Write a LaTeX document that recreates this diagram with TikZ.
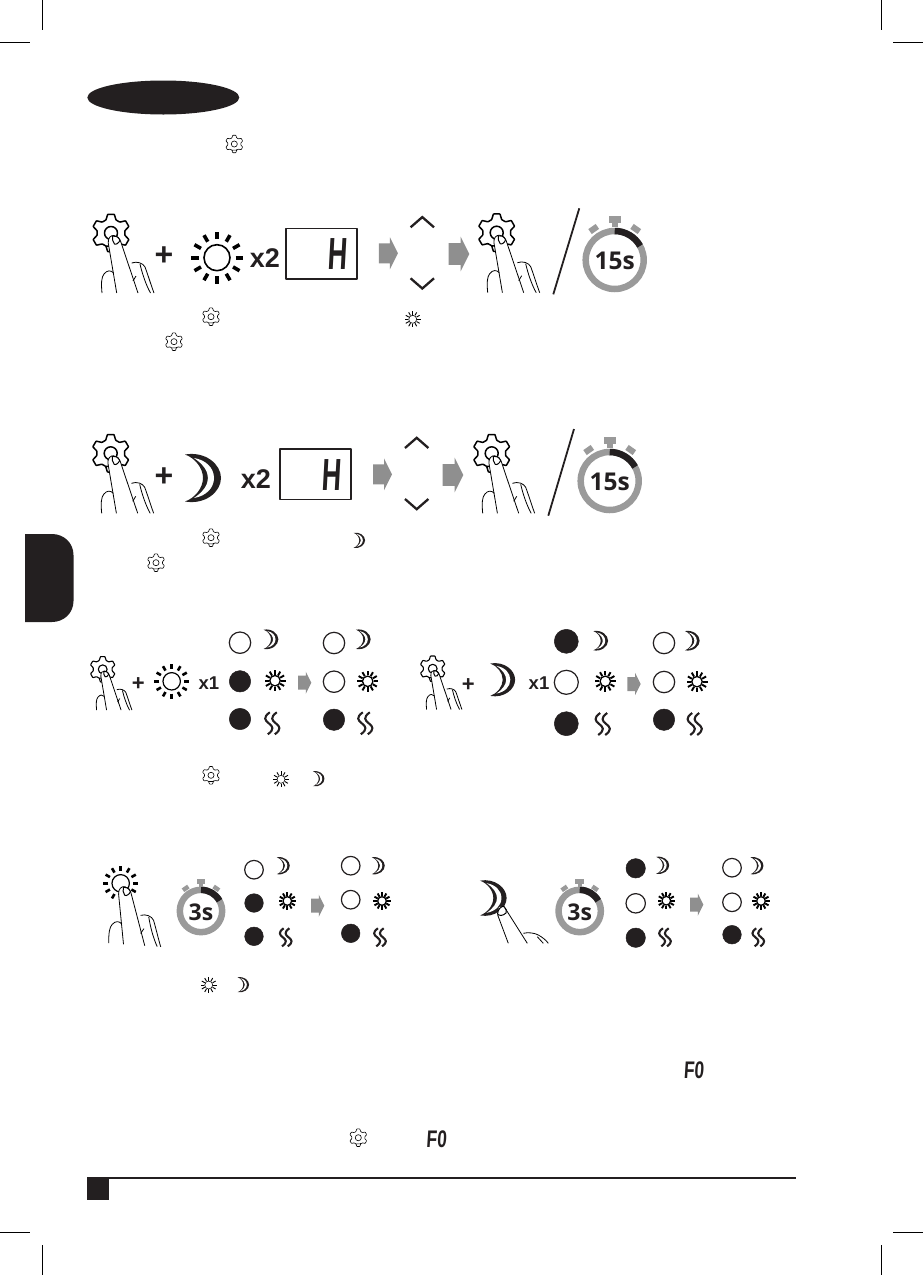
\documentclass[tikz,border=0pt]{standalone}
\usepackage{fontspec}
\setmainfont{Liberation Sans}
\newfontfamily\watchfont{Open Sans}
\newfontfamily\segfont[FakeSlant=.09]{Liberation Sans}
\usetikzlibrary{positioning}
\definecolor{inkdark}{HTML}{231F20}
\definecolor{arrowgray}{HTML}{8F8F8F}
\definecolor{ringgray}{HTML}{9A9A9A}
\begin{document}
\begin{tikzpicture}[
  x=1pt, y=-1pt, line join=round,
  plusmark/.style={font=\fontsize{32}{32}\selectfont\bfseries,text=inkdark,inner sep=0pt},
  plussmall/.style={font=\fontsize{22}{22}\selectfont\bfseries,text=inkdark,inner sep=0pt},
  timesmark/.style={font=\fontsize{27}{27}\selectfont\bfseries,text=inkdark,inner sep=0pt},
  timessmall/.style={font=\fontsize{18.5}{19}\selectfont\bfseries,text=inkdark,inner sep=0pt},
  watchbig/.style={font=\watchfont\fontsize{24.5}{25}\selectfont\bfseries,text=inkdark,inner sep=0pt},
  watchsmall/.style={font=\watchfont\fontsize{23}{23}\selectfont\bfseries,text=inkdark,inner sep=0pt},
  segbig/.style={font=\segfont\fontsize{45}{45}\selectfont\bfseries,text=inkdark,inner sep=0pt,xscale=.6,transform shape},
  segsmall/.style={font=\segfont\fontsize{24}{24}\selectfont\bfseries,text=inkdark,inner sep=0pt,xscale=.72,transform shape},
  dispbox/.style={draw=inkdark,line width=1.8pt,minimum width=71pt,minimum height=50.5pt,inner sep=0pt},
  ledon/.style={circle,fill=inkdark,draw=inkdark,line width=.5pt,inner sep=0pt},
  ledoff/.style={circle,fill=white,draw=inkdark,line width=1.2pt,inner sep=0pt},
  crop/.style={line width=.8pt,black},
  gearmark/.pic={
    \draw[rounded corners=.5pt] (69:14) \foreach \a in {90,150,...,450} {
      -- ({\a-21}:14) -- ({\a-10}:19) -- ({\a+10}:19) -- ({\a+21}:14) } -- cycle;
    \draw (0,0) circle (6.5);
  },
  handmark/.pic={
    \fill[white] (-2.7,10.3) .. controls (-3.5,5) and (0,2) .. (3,2.5)
      .. controls (6,3) and (9,5) .. (9.5,8) -- (27,60) -- (5.7,60) -- cycle;
    \draw[line width=.8pt] (5.7,60) -- (-2.7,10.3) .. controls (-3.5,5) and (0,2) .. (3,2.5)
      .. controls (6,3) and (9,5) .. (9.5,8) -- (27,60);
    \draw[line width=1pt,fill=white] (1.5,3) .. controls (4,2.5) and (7,3.5) .. (9,7)
      .. controls (8,10) and (5,12) .. (3.5,11) .. controls (2,9) and (1,6) .. cycle;
    \draw[line width=.8pt] (-9,60) .. controls (-10,50) and (-9.5,44) .. (-7,41)
      .. controls (-4,37) and (0,37) .. (2.6,40);
    \draw[line width=.8pt] (20.7,30) .. controls (26,28) and (32,30) .. (34,34)
      .. controls (37,42) and (40,52) .. (43,60);
    \draw[line width=.8pt] (29,31) .. controls (31,40) and (35,52) .. (39.5,60);
    \draw[line width=.8pt] (22,48) -- (25,43);
  },
  pics/sunflash/.style={code={
    \draw (0,0) circle (13);
    \foreach \a in {0,30,...,330} \draw[line width=#1] (\a:18.5) -- (\a:26);
  }},
  pics/sunmark/.style={code={
    \draw (0,0) circle (5);
    \foreach \a in {0,30,...,330} \draw[line width=#1] (\a:5.6) -- (\a:10);
  }},
  moonmark/.pic={
    \fill[inkdark] (-18,-23.5) .. controls (2,-27) and (18,-14) .. (18,0)
      .. controls (18,14) and (2,27) .. (-18,23.5)
      .. controls (-8,20) and (0,10) .. (0,0)
      .. controls (0,-10) and (-8,-20) .. (-18,-23.5) -- cycle;
    \fill[white] (-9,-20) .. controls (3,-18) and (11,-10) .. (11,0)
      .. controls (11,10) and (3,18) .. (-9,20)
      .. controls (0,14) and (5,7) .. (5,0)
      .. controls (5,-7) and (0,-14) .. (-9,-20) -- cycle;
  },
  steammark/.pic={
    \foreach \x in {-3.5,3.5} \draw[line width=2.1pt,inkdark] (\x+1,-11)
      .. controls (\x-6,-6) and (\x-4,-3) .. (\x,0)
      .. controls (\x+4,3) and (\x+6,6) .. (\x-1,11);
  },
  grayarrow/.pic={
    \fill[arrowgray] (-9.5,-10) -- (1.5,-10) -- (1.5,-16) -- (9.5,0) -- (1.5,16) -- (1.5,10) -- (-9.5,10) -- cycle;
  },
  updown/.pic={
    \draw[line width=2.3pt,inkdark,line join=miter] (-11.7,-25.5) -- (0,-35.7) -- (11.7,-25.5);
    \draw[line width=2.3pt,inkdark,line join=miter] (-11.7,25.5) -- (0,35.7) -- (11.7,25.5);
  },
  watchmark/.pic={
    \draw[line width=6.5pt,ringgray] (0,0) circle (29);
    \draw[line width=6.5pt,inkdark] (-90:29) arc (-90:-29:29);
    \fill[ringgray] (-6,-44.3) rectangle (6,-37.3);
    \fill[ringgray] (-3,-36.7) rectangle (3,-33);
    \fill[ringgray,shift={(-21,-31)},rotate=35] (-4.5,-3) rectangle (4.5,3);
    \fill[ringgray,shift={(21,-31)},rotate=-35] (-4.5,-3) rectangle (4.5,3);
  },
]
\useasboundingbox (0,0) rectangle (923,1275);
\foreach \x in {42.5,881.5} {
  \draw[crop] (\x,0) -- (\x,30);
  \draw[crop] (\x,1245) -- (\x,1275);
}
\foreach \y in {42.3,1232} {
  \draw[crop] (0,\y) -- (30,\y);
  \draw[crop] (893,\y) -- (923,\y);
}
\fill[inkdark] (163.3,97.5) ellipse [x radius=76,y radius=17];
\fill[inkdark] (25,534) -- (52,534) .. controls (64,534) and (73.5,543) .. (73.5,555)
  -- (73.5,601) .. controls (73.5,613) and (64,622) .. (52,622) -- (25,622) -- cycle;
\fill[inkdark] (87,1177) rectangle (796,1179);
\fill[inkdark] (87,1177) rectangle (109,1200);

\pic[line width=1.5pt] at (111,233) {gearmark};
\pic at (111,233) {handmark};
\node[plusmark] (plus1) at (164,256) {+};
\pic[line width=1.6pt] at (217,257.7) {sunflash=3.6pt};
\node[timesmark] (times1) at (265,258) {x2};
\node[dispbox] (disp1) at (321.7,253.8) {};
\node[segbig] (seg1) at (337.5,254) {H};
\pic at (388.4,253.3) {grayarrow};
\pic at (422.3,252.8) {updown};
\pic[scale=1.08] at (459,254) {grayarrow};
\pic[line width=1.5pt] at (496.7,232.7) {gearmark};
\pic at (496.7,232.7) {handmark};
\draw[line width=1.8pt,inkdark] (579.3,208.3) -- (553.3,294.3);
\pic at (614.7,260) {watchmark};
\node[watchbig] (watch1) at (614.7,261) {15s};

\pic[line width=1.5pt] at (110.7,453.3) {gearmark};
\pic at (110.7,453.3) {handmark};
\node[plusmark] (plus2) at (164,477) {+};
\pic at (203,478) {moonmark};
\node[timesmark] (times2) at (256,479) {x2};
\node[dispbox] (disp2) at (315.8,474.3) {};
\node[segbig] (seg2) at (331.7,474.7) {H};
\pic at (382.5,474.3) {grayarrow};
\pic at (416.7,473.5) {updown};
\pic[scale=1.08] at (453,475) {grayarrow};
\pic[line width=1.5pt] at (491.7,453.3) {gearmark};
\pic at (491.7,453.3) {handmark};
\draw[line width=1.8pt,inkdark] (574,429) -- (548.3,515.7);
\pic at (609.7,481) {watchmark};
\node[watchbig] (watch2) at (609.7,482) {15s};

\pic[scale=.68,line width=1.1pt] at (102.7,669.3) {gearmark};
\pic[scale=.68] at (102.7,669.3) {handmark};
\node[plussmall] (plus3) at (138.3,684) {+};
\pic[scale=.67,line width=1.2pt] at (171.7,681.3) {sunflash=2.6pt};
\node[timessmall] (times3) at (209,682.7) {x1};
\pic[scale=.68,line width=1.1pt] at (432.7,668.7) {gearmark};
\pic[scale=.68] at (432.7,668.7) {handmark};
\node[plussmall] (plus4) at (468.3,685) {+};
\pic[scale=.69] at (502.7,679.7) {moonmark};
\node[timessmall] (times4) at (539,683.3) {x1};

\pic[scale=.67,line width=1.2pt] at (120.7,883.3) {sunflash=2.6pt};
\pic[rotate=-4] at (122,884) {handmark};
\pic[scale=.74] at (493.3,898) {moonmark};
\fill[white] (497.7,915) -- (499,907) -- (505,906.7) -- (527.3,943.3) -- (508.3,943.3) -- cycle;
\draw[line width=.8pt] (508.3,943.3) -- (497.7,915);
\draw[line width=1pt,fill=white] (497.5,914) .. controls (498,909) and (501,906) .. (504,906.5)
  .. controls (506,908) and (507,911) .. (506,913) .. controls (503,916) and (499,916) .. cycle;
\draw[line width=.8pt] (505,908) -- (527.3,943.3);
\draw[line width=.8pt] (523.3,933.3) .. controls (528,932) and (535,933) .. (538.3,935)
  .. controls (542,937) and (546,940) .. (548.3,943.3);
\draw[line width=.8pt] (537.3,936.7) -- (543.3,943.3);
\pic[scale=.73] at (201,911) {watchmark};
\node[watchsmall] (watch3) at (201,912) {3s};
\pic[scale=.73] at (579.7,911) {watchmark};
\node[watchsmall] (watch4) at (579.7,912) {3s};

\foreach \x/\y/\s/\r [count=\i] in {
  240/642.7/ledoff/10.7, 240/681.3/ledon/10.7, 240/719/ledon/10.7,
  334/643/ledoff/10.7, 334/681.7/ledoff/10.7, 334/719.7/ledon/10.7,
  566.3/641.3/ledon/12, 566.3/682.3/ledoff/12, 566.3/723.7/ledon/12,
  664/643/ledoff/10.7, 664/682/ledoff/10.7, 664/719.7/ledon/10.7,
  254/869.7/ledoff/9.3, 254/903/ledon/9.3, 254/936.3/ledon/9.3,
  350.7/865.7/ledoff/9.3, 350.7/899.7/ledoff/9.3, 350.7/933.3/ledon/9.3,
  635.7/868.3/ledon/9.7, 635.7/903.3/ledoff/9.7, 635.7/937.7/ledon/9.7,
  732/867.7/ledoff/9.3, 732/902.3/ledoff/9.3, 732/934.7/ledon/9.3}
  \node[\s,minimum size={2*\r pt}] (led\i) at (\x,\y) {};

\foreach \x/\y/\m in {271/639.3/.41, 363.3/639.3/.41, 600.7/640.7/.41, 692.3/640.7/.41,
  283.3/865.7/.36, 378.3/865.7/.36, 662.7/865.3/.36, 757/865.7/.36,
  359.3/540.3/.32, 318.7/778.7/.32, 243.3/984.7/.32}
  \pic[scale=\m] at (\x,\y) {moonmark};

\foreach \x/\y/\m in {275/680.7/1.05, 367.7/681.3/1.05, 605.3/681.3/1.05, 697/681.7/1.05,
  287.3/901/.87, 382/901/.87, 666.3/900.7/.87, 761/901/.87}
  \pic[scale=\m,line width=1.3pt] at (\x,\y) {sunmark=1.9pt};

\foreach \x/\y/\m in {412.7/319.3/.8, 281/779.3/.8, 208.7/985/.8}
  \pic[scale=\m,line width=.6pt] at (\x,\y) {sunmark=.9pt};

\foreach \x/\y/\m in {272.3/723.3/1, 365.3/723.3/1, 602.7/724/1, 694.7/724/1,
  285.7/937.3/.82, 380/937.3/.82, 665/937.3/.82, 758.3/937.3/.82}
  \pic[scale=\m] at (\x,\y) {steammark};

\foreach \x/\y in {304.7/682.7, 634/684, 317.7/905.7, 696.7/904.7}
  \pic[scale=.7] at (\x,\y) {grayarrow};

\foreach \x/\y in {234.3/144, 211/316.7, 174/341.7, 211/537.7, 156/562.7, 211/775.3, 358.3/1137.7}
  \pic[scale=.47,line width=.6pt] at (\x,\y) {gearmark};

\node[segsmall] (fzero1) at (693.7,1070.7) {F0};
\node[segsmall] (fzero2) at (436.3,1139.7) {F0};
\end{tikzpicture}
\end{document}
